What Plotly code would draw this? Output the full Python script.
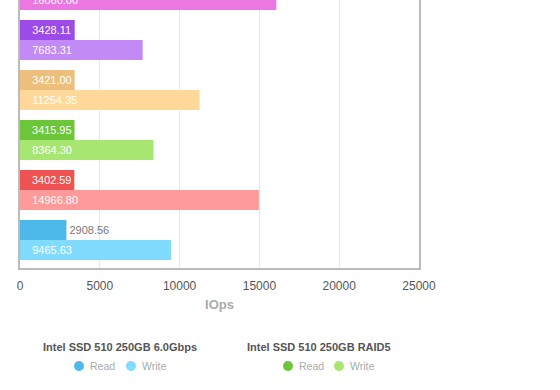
import plotly.graph_objects as go

# Data (bottom to top)
configs = ["Intel SSD 510 250GB 6.0Gbps", "Config B", "Intel SSD 510 250GB RAID5",
           "Config D", "Config E", "Config F"]
read_vals = [2908.56, 3402.59, 3415.95, 3421.00, 3428.11, 3430.00]
write_vals = [9465.63, 14966.80, 8364.30, 11254.35, 7683.31, 16060.00]
read_colors = ["#4cb9ea", "#ee5253", "#6cc63a", "#ecc07c", "#9c4ae8", "#e070d8"]
write_colors = ["#80dbff", "#ff9a9a", "#a8e672", "#ffd89a", "#c18af5", "#ea78e0"]
series_names = ["Read", "Write"]
x_ticks = [0, 5000, 10000, 15000, 20000, 25000]

FONT = "Liberation Sans, Arial, sans-serif"
PAD = "\u00a0\u00a0\u00a0"

W, H = 560, 390
ML, MR, MT, MB = 20, 141, 0, 122
PW, PH = W - ML - MR, H - MT - MB


def fmt(v):
    return f"{v:.2f}"


def px_to_paper(px, py):
    return (px - ML) / PW, (H - MB - py) / PH


fig = go.Figure()

# write first -> lower bar in each group, read second -> upper bar
fig.add_trace(go.Bar(
    y=configs, x=write_vals, orientation="h", name="Write",
    marker=dict(color=write_colors, line=dict(width=0)),
    text=[PAD + fmt(v) for v in write_vals],
    textposition="inside", insidetextanchor="start",
    textfont=dict(family=FONT, size=11, color="white"),
    showlegend=False, hoverinfo="x",
))
read_pos = ["outside" if v < 3000 else "inside" for v in read_vals]
read_text = [fmt(v) if v < 3000 else (PAD + fmt(v)) for v in read_vals]
fig.add_trace(go.Bar(
    y=configs, x=read_vals, orientation="h", name="Read",
    marker=dict(color=read_colors, line=dict(width=0)),
    text=read_text,
    textposition=read_pos, insidetextanchor="start",
    insidetextfont=dict(family=FONT, size=11, color="white"),
    outsidetextfont=dict(family=FONT, size=11, color="#777777"),
    showlegend=False, hoverinfo="x",
))

fig.update_layout(
    width=W, height=H,
    margin=dict(l=ML, r=MR, t=MT, b=MB),
    paper_bgcolor="white", plot_bgcolor="white",
    barmode="group", bargap=0.2, bargroupgap=0,
    font=dict(family=FONT),
    showlegend=False,
    xaxis=dict(range=[0, 25000], tickvals=x_ticks, ticktext=[str(t) for t in x_ticks],
               showgrid=True, gridcolor="#e8e8e8", gridwidth=1, zeroline=False,
               showline=True, linecolor="#bbbbbb", linewidth=1.5,
               ticks="", ticklabelstandoff=6,
               tickfont=dict(family=FONT, size=12, color="#555555"),
               title=dict(text="<b>IOps</b>", standoff=8,
                          font=dict(family=FONT, size=13, color="#aaaaaa"))),
    yaxis=dict(range=[-0.56, 4.8], showticklabels=False, showgrid=False, zeroline=False,
               showline=True, mirror=True, linecolor="#bbbbbb", linewidth=1.5, ticks=""),
)

# custom legend: group title + circle markers with labels
legend_layout = [  # (config index, title centre x, [circle centre x for Read, Write])
    (0, 120, [79, 131]),
    (2, 319, [288, 339]),
]
TITLE_Y, ITEM_Y, R = 347, 366, 5
for idx, tx, cxs in legend_layout:
    px, py = px_to_paper(tx, TITLE_Y)
    fig.add_annotation(text="<b>" + configs[idx] + "</b>", xref="paper", yref="paper",
                       x=px, y=py, xanchor="center", yanchor="middle",
                       showarrow=False, font=dict(family=FONT, size=11, color="#555555"))
    for name, col, cx in zip(series_names, [read_colors[idx], write_colors[idx]], cxs):
        ax, ay = px_to_paper(cx, ITEM_Y)
        fig.add_shape(type="circle", xref="paper", yref="paper",
                      xsizemode="pixel", ysizemode="pixel", xanchor=ax, yanchor=ay,
                      x0=-R, x1=R, y0=-R, y1=R,
                      fillcolor=col, line=dict(width=0))
        lx, ly = px_to_paper(cx + 9, ITEM_Y)
        fig.add_annotation(text=name, xref="paper", yref="paper", x=lx, y=ly,
                           xanchor="left", yanchor="middle", showarrow=False,
                           font=dict(family=FONT, size=10.5, color="#aaaaaa"))

fig.write_html("out.html", config={"displayModeBar": False},
               post_script="document.body.style.margin='0px';")
